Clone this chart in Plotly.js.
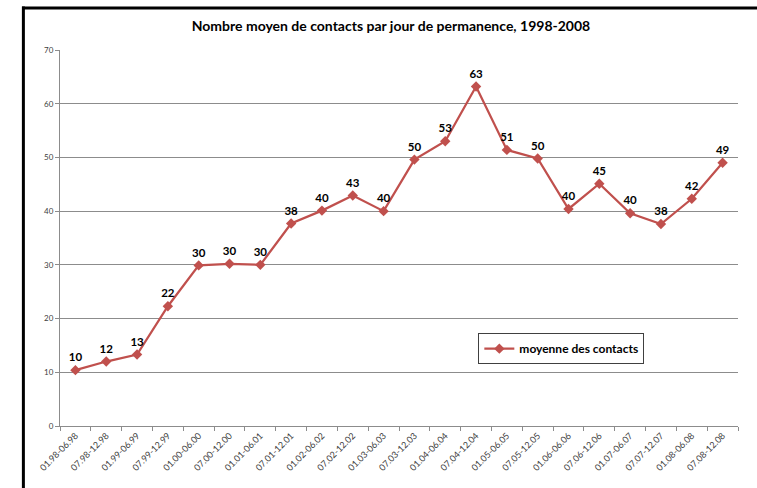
<!DOCTYPE html>
<html>
<head>
<meta charset="utf-8">
<script src="https://cdn.plot.ly/plotly-3.0.1.min.js"></script>
<style>
  html, body { margin: 0; padding: 0; background: #fff; overflow: hidden; }
  #chart { width: 757px; height: 488px; }
</style>
</head>
<body>
<div id="chart"></div>
<script>
  const periods = [
    "01.98-06.98", "07.98-12.98", "01.99-06.99", "07.99-12.99",
    "01.00-06.00", "07.00-12.00", "01.01-06.01", "07.01-12.01",
    "01.02-06.02", "07.02-12.02", "01.03-06.03", "07.03-12.03",
    "01.04-06.04", "07.04-12.04", "01.05-06.05", "07.05-12.05",
    "01.06-06.06", "07.06-12.06", "01.07-06.07", "07.07-12.07",
    "01.08-06.08", "07.08-12.08"
  ];
  const contacts = [
    10.4, 12.0, 13.3, 22.3, 29.9, 30.2, 30.0, 37.7,
    40.1, 42.9, 40.0, 49.6, 53.0, 63.2, 51.4, 49.8,
    40.4, 45.1, 39.6, 37.6, 42.3, 49.0
  ];
  const yTicks = [0, 10, 20, 30, 40, 50, 60, 70];

  const red = "#C0504D";
  const grid = "#8c8c8c";
  const font = "Lato, 'Open Sans', sans-serif";

  const trace = {
    x: periods,
    y: contacts,
    type: "scatter",
    mode: "lines+markers+text",
    name: "moyenne des contacts",
    line: { color: red, width: 2.25 },
    marker: { symbol: "diamond", size: 8, color: red },
    texttemplate: "%{y:.0f}",
    textposition: "top center",
    textfont: { family: font, size: 11.5, color: "#000", weight: "bold" },
    cliponaxis: false,
    hoverinfo: "x+y"
  };

  // frame: only the top and left edges fall inside the picture
  const frameLine = { color: "#000", width: 3 };

  const layout = {
    width: 757,
    height: 488,
    paper_bgcolor: "#fff",
    plot_bgcolor: "#fff",
    margin: { l: 60, r: 19, t: 50, b: 62 },
    font: { family: font, color: "#404040" },
    title: {
      text: "<b>Nombre moyen de contacts par jour de permanence, 1998-2008</b>",
      font: { family: font, size: 14, color: "#000" },
      x: 0.5165,
      xref: "container",
      xanchor: "center",
      y: 0.947,
      yref: "container",
      yanchor: "middle"
    },
    xaxis: {
      type: "category",
      tickangle: -45,
      tickfont: { family: font, size: 9, color: "#404040" },
      tickson: "boundaries",
      ticks: "outside",
      ticklen: 4,
      tickcolor: grid,
      showline: true,
      linecolor: grid,
      linewidth: 1,
      showgrid: false,
      range: [-0.5, periods.length - 0.5],
      fixedrange: true
    },
    yaxis: {
      range: [0, 70],
      tickvals: yTicks,
      ticks: "outside",
      ticklen: 4,
      tickcolor: grid,
      tickfont: { family: font, size: 8, color: "#404040" },
      showline: true,
      linecolor: grid,
      linewidth: 1,
      showgrid: true,
      gridcolor: grid,
      gridwidth: 1,
      zeroline: false,
      fixedrange: true
    },
    showlegend: true,
    legend: {
      x: 0.617,
      y: 0.247,
      xanchor: "left",
      yanchor: "top",
      bgcolor: "#fff",
      bordercolor: "#404040",
      borderwidth: 1,
      font: { family: font, size: 12, color: "#000", weight: "bold" },
      itemwidth: 30,
      tracegroupgap: 0
    },
    shapes: [
      {
        type: "line", xref: "paper", yref: "paper",
        x0: -0.056, x1: 1.05, y0: 1.112, y1: 1.112,
        line: frameLine, layer: "below"
      },
      {
        type: "line", xref: "paper", yref: "paper",
        x0: -0.054, x1: -0.054, y0: -0.2, y1: 1.116,
        line: frameLine, layer: "below"
      }
    ]
  };

  Plotly.newPlot("chart", [trace], layout, { displayModeBar: false, staticPlot: true });
</script>
</body>
</html>
